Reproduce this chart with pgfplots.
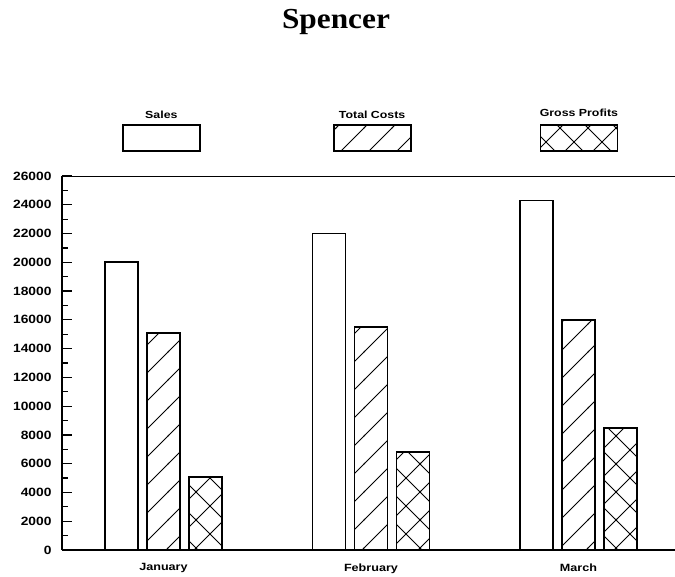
\documentclass[border=0pt]{standalone}
\usepackage{pgfplots}
\pgfplotsset{compat=1.18}
\usetikzlibrary{patterns.meta}
\usepackage{fontspec}
\newfontfamily\lbl[FakeStretch=1.2]{Liberation Sans}
\newfontfamily\lblw[FakeStretch=1.15]{Liberation Sans}
\newfontfamily\ttl[FakeStretch=1.08]{Liberation Serif}

\tikzdeclarepattern{
  name=diag,
  type=uncolored,
  bounding box={(-1pt,-1pt) and (29pt,29pt)},
  tile size={(28pt,28pt)},
  code={\draw[line width=0.8pt] (-1pt,-1pt) -- (29pt,29pt);}
}
\tikzdeclarepattern{
  name=cross,
  type=uncolored,
  bounding box={(-1pt,-1pt) and (29pt,29pt)},
  tile size={(28pt,28pt)},
  code={\draw[line width=0.8pt] (-1pt,-1pt) -- (29pt,29pt) (-1pt,29pt) -- (29pt,-1pt);}
}

\pgfplotstableread{
x sales costs profits
0 20000 15100 5100
1 22000 15500 6800
2 24300 16000 8500
}\spencer

\newcommand{\yfont}{\lblw\bfseries\fontsize{12}{14}\selectfont}
\newcommand{\xfont}{\lbl\bfseries\fontsize{10.5}{12}\selectfont}
\newcommand{\legfont}{\lbl\bfseries\fontsize{10.3}{12}\selectfont}

\pgfplotsset{
  legsales/.style={legend image code/.code={\draw[##1] (0pt,-13pt) rectangle (77pt,13pt);
    \node[anchor=base, font=\legfont] at (38.5pt,20pt) {Sales};}},
  legcosts/.style={legend image code/.code={\draw[##1] (0pt,-13pt) rectangle (77pt,13pt);
    \node[anchor=base, font=\legfont] at (38.5pt,20pt) {Total Costs};}},
  legprofits/.style={legend image code/.code={\draw[##1] (0pt,-13pt) rectangle (77pt,13pt);
    \node[anchor=base, font=\legfont] at (38.5pt,22pt) {Gross Profits};}},
}

\begin{document}
\begin{tikzpicture}
\path[use as bounding box] (0pt,0pt) rectangle (675pt,576pt);
\node[font=\ttl\bfseries\fontsize{29}{32}\selectfont, anchor=base] at (336pt,547pt) {Spencer};
\begin{axis}[
  at={(62pt,26pt)}, anchor=south west,
  scale only axis, width=613pt, height=374pt,
  xmin=-0.489, xmax=2.465,
  ymin=0, ymax=26000,
  ybar=9pt, bar width=33pt,
  axis x line*=bottom, axis y line*=left,
  axis line style={line width=1.5pt, -},
  after end axis/.code={\draw[line width=0.9pt] (rel axis cs:0,1) -- (rel axis cs:1,1);},
  xtick=data, xticklabels={January,February,March},
  major x tick style={draw=none},
  xticklabel style={font=\xfont, yshift=-10pt},
  ytick distance=2000, minor y tick num=1,
  ytick pos=left, tick align=inside,
  major tick length=10pt, minor tick length=6pt,
  every tick/.style={line width=1.2pt, black},
  yticklabel style={font=\yfont, xshift=-7pt},
  /pgf/number format/assume math mode=true,
  /pgf/number format/set thousands separator={},
  scaled y ticks=false,
  legend style={at={(axis description cs:0.0978,1.064)}, anchor=south west,
    draw=none, fill=none, inner sep=0pt, outer sep=0pt,
    legend columns=3, column sep=0pt,
    /tikz/column 2/.style={column sep=131pt},
    /tikz/column 4/.style={column sep=127pt},
    nodes={inner sep=0pt, outer sep=0pt}},
]
\addplot[draw=black, fill=white, line width=1.8pt, legsales]
  table[x=x, y=sales] {\spencer};
\addlegendentry{\mbox{}}
\addplot[draw=black, line width=1.8pt, pattern=diag, pattern color=black, legcosts]
  table[x=x, y=costs] {\spencer};
\addlegendentry{\mbox{}}
\addplot[draw=black, line width=1.8pt, pattern=cross, pattern color=black, legprofits]
  table[x=x, y=profits] {\spencer};
\addlegendentry{\mbox{}}
\end{axis}
\end{tikzpicture}
\end{document}
